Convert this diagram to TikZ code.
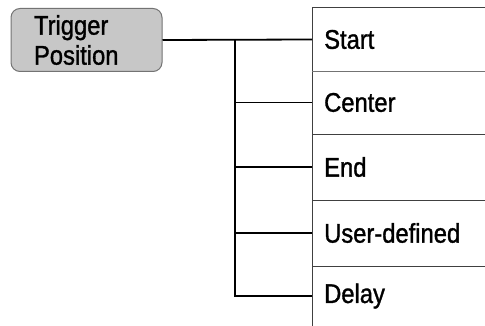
\documentclass[tikz,border=0pt]{standalone}
\usepackage{fontspec}
\setmainfont{Liberation Sans}[FakeStretch=0.88, FakeBold=1.2]
\begin{document}
\begin{tikzpicture}[x=1pt,y=1pt,
  font=\fontsize{27}{30}\selectfont,
  tpbox/.style={draw=black!55, line width=1pt, fill=black!22, rounded corners=9pt,
    text width=105pt, inner xsep=23pt, inner ysep=0pt, minimum height=63pt, align=left},
  cell/.style={anchor=west, minimum width=173pt, text width=149pt, inner xsep=12pt,
    inner ysep=0pt, align=left},
  conn/.style={line width=1.8pt, black},
  rule/.style={line width=0.9pt, black!75}]
\useasboundingbox (0,0) rectangle (485,-326);
\node[tpbox] (tp) at (86.5,-40) {Trigger\\Position};
\node[cell, minimum height=63pt] (m1) at (312,-39.5) {Start};
\node[cell, minimum height=63pt] (m2) at (312,-102.5) {Center};
\node[cell, minimum height=66pt] (m3) at (312,-167) {End};
\node[cell, minimum height=66pt] (m4) at (312,-233) {User-defined};
\node[cell, minimum height=60pt] (m5) at (312,-296) {Delay};
\coordinate (j1) at (235,-40);
% menu rules
\draw[rule] (m1.north east) -- (m1.north west) -- (m5.south west);
\draw[rule, black!55] (m1.south west) -- (m1.south east);
\draw[rule] (m2.south west) -- (m2.south east);
\draw[rule] (m3.south west) -- (m3.south east);
\draw[rule] (m4.south west) -- (m4.south east);
% connectors
\draw[conn] (tp.east) -- (m1.west);
\draw[conn] (j1) |- (m5.west);
\draw[conn] (j1) |- (m2.west);
\draw[conn] (j1) |- (m3.west);
\draw[conn] (j1) |- (m4.west);
\end{tikzpicture}
\end{document}
